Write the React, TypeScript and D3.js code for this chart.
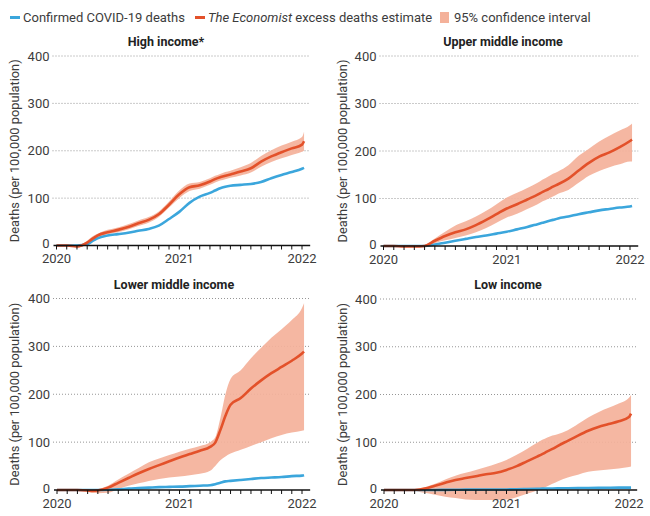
import React from "react";
import * as d3 from "d3";

// ---- data (months since Jan 2020) ----
const months = [0, 1, 2, 3, 3.5, 4, 5, 6, 7, 8, 9, 10, 11, 12, 13, 14, 15, 15.5, 16, 16.5, 17, 18, 19, 20, 21, 22, 23, 24, 24.2];
const yearLabels = ["2020", "2021", "2022"];
const yTicks = [0, 100, 200, 300, 400];
const panelTitles = ["High income*", "Upper middle income", "Lower middle income", "Low income"];

const highEstimate = [0, 0, -2, 6, 14, 21, 28, 33, 39, 47, 54, 66, 86, 108, 123, 127, 135, 140, 144, 147, 150, 156, 163, 177, 188, 197, 205, 213, 220];
const highUpper = [0, 1, 0, 10, 19, 25, 33, 38, 45, 53, 60, 72, 93, 116, 131, 134, 142, 147, 151, 155, 158, 165, 174, 189, 201, 211, 219, 229, 240];
const highLower = [0, -1, -4, 2, 9, 17, 24, 28, 34, 41, 48, 60, 80, 100, 115, 120, 128, 133, 137, 140, 143, 148, 154, 166, 176, 184, 191, 198, 200];
const highConfirmed = [0, 0, 0, 3, 9, 15, 21, 24, 27, 31, 35, 42, 56, 71, 90, 103, 111, 116, 121, 124, 126, 128, 130, 134, 142, 149, 155, 162, 164];

const upperMidEstimate = [0, 0, -1, -1, -1, 0, 11, 21, 29, 35, 44, 55, 67, 79, 88, 98, 108, 114, 119, 125, 130, 142, 159, 175, 188, 197, 208, 221, 224];
const upperMidUpper = [0, 0, 0, 0, 0, 2, 16, 30, 43, 52, 62, 74, 88, 102, 112, 122, 133, 140, 146, 152, 157, 170, 190, 205, 220, 232, 243, 254, 258];
const upperMidLower = [0, -1, -2, -2, -2, -2, 6, 12, 17, 22, 29, 38, 49, 60, 68, 78, 88, 94, 99, 104, 110, 118, 133, 148, 158, 166, 172, 178, 178];
const upperMidConfirmed = [0, 0, 0, 0, 0, 0, 3, 7, 11, 15, 19, 22, 26, 30, 35, 40, 46, 49, 52, 55, 58, 62, 67, 71, 75, 78, 81, 83, 84];

const lowerMidEstimate = [0, 0, 0, -1, -2, -1, 5, 15, 25, 35, 44, 52, 60, 68, 75, 82, 90, 99, 125, 155, 178, 192, 212, 229, 244, 257, 270, 285, 289];
const lowerMidUpper = [0, 1, 1, 0, 0, 2, 9, 22, 34, 46, 58, 66, 73, 80, 86, 92, 100, 110, 150, 200, 232, 250, 275, 297, 318, 336, 355, 380, 390];
const lowerMidLower = [0, -1, -2, -4, -6, -7, -6, 2, 9, 14, 19, 23, 26, 28, 31, 34, 40, 50, 62, 70, 76, 84, 92, 100, 108, 115, 120, 124, 125];
const lowerMidConfirmed = [0, 0, 0, 0, 0, 0, 0.5, 1.5, 3, 4, 5, 6, 6.5, 7, 8, 9, 10, 12, 15, 18, 19, 21, 23, 25, 26, 27, 29, 30, 31];

const lowEstimate = [0, 0, 0, 0, 1, 3, 9, 15, 21, 25, 29, 33, 36, 42, 50, 60, 70, 75, 81, 86, 92, 103, 114, 124, 132, 138, 144, 153, 160];
const lowUpper = [0, 0, 0, 1, 3, 6, 13, 22, 30, 36, 42, 48, 55, 63, 74, 86, 99, 105, 110, 114, 117, 125, 138, 152, 163, 172, 181, 193, 199];
const lowLower = [0, 0, 0, -2, -4, -6, -10, -14, -17, -20, -21, -21, -21, -20, -15, -8, -1, 3, 8, 13, 18, 26, 32, 38, 41, 43, 45, 48, 49];
const lowConfirmed = [0, 0, 0, 0, 0, 0, 0, 0.3, 0.5, 0.7, 0.8, 1, 1, 1.2, 1.5, 2, 2.5, 2.8, 3, 3.2, 3.4, 3.7, 4, 4.3, 4.5, 4.7, 4.9, 5, 5];

const series = [
  { est: highEstimate, up: highUpper, lo: highLower, conf: highConfirmed },
  { est: upperMidEstimate, up: upperMidUpper, lo: upperMidLower, conf: upperMidConfirmed },
  { est: lowerMidEstimate, up: lowerMidUpper, lo: lowerMidLower, conf: lowerMidConfirmed },
  { est: lowEstimate, up: lowUpper, lo: lowLower, conf: lowConfirmed },
];

// ---- layout ----
const layout = [
  { x0: 56.5, x1: 302, y0: 245.5, y1: 56, titleX: 166, titleY: 45.5, axisTitleX: 15 },
  { x0: 383.5, x1: 630, y0: 246, y1: 56, titleX: 503, titleY: 45.5, axisTitleX: 343 },
  { x0: 57, x1: 302, y0: 490, y1: 298.5, titleX: 174, titleY: 288.5, axisTitleX: 15 },
  { x0: 384, x1: 629, y0: 490, y1: 299, titleX: 508, titleY: 288.5, axisTitleX: 343 },
];

const BLUE = "#3ba6dc";
const RED = "#e3512a";
const BAND = "#f4b19a";
const TEXT = "#3c3c3c";
const FONT = "Roboto, 'Noto Sans', sans-serif";

function Panel({ idx }: { idx: number }) {
  const L = layout[idx];
  const S = series[idx];
  const x = d3.scaleLinear().domain([0, 24]).range([L.x0, L.x1]);
  const y = d3.scaleLinear().domain([0, 400]).range([L.y0, L.y1]);
  const pts = months.map((m, i) => i);
  const line = (vals: number[]) =>
    d3.line<number>().x((i) => x(months[i])).y((i) => y(vals[i])).curve(d3.curveMonotoneX)(pts) || "";
  const area =
    d3
      .area<number>()
      .x((i) => x(months[i]))
      .y0((i) => y(S.lo[i]))
      .y1((i) => y(S.up[i]))
      .curve(d3.curveMonotoneX)(pts) || "";
  const monthTicks = d3.range(0, 25);
  const gridStart = L.x0 - 4;
  const gridEnd = x(24.8);
  return (
    <g>
      <text x={L.titleX} y={L.titleY} textAnchor="middle" fontWeight="bold" fontSize={12.5} fill="#222">
        {panelTitles[idx]}
      </text>
      <text
        transform={`translate(${L.axisTitleX},${(L.y0 + L.y1) / 2}) rotate(-90)`}
        textAnchor="middle"
        dy="0.35em"
        fontSize={12.8}
        fill={TEXT}
      >
        Deaths (per 100,000 population)
      </text>
      {yTicks.map((t) => (
        <g key={t}>
          {t > 0 && (
            <line
              x1={gridStart}
              x2={gridEnd}
              y1={y(t)}
              y2={y(t)}
              stroke="#8a8a8a"
              strokeWidth={0.9}
              strokeDasharray="1 2"
            />
          )}
          <text
            x={L.x0 - 7}
            y={t === 0 ? y(t) - 2 : y(t)}
            dy="0.36em"
            textAnchor="end"
            fontSize={13}
            fill={TEXT}
          >
            {t}
          </text>
        </g>
      ))}
      <path d={area} fill={BAND} opacity={0.92} />
      <path d={line(S.conf)} fill="none" stroke={BLUE} strokeWidth={2.6} strokeLinejoin="round" />
      <path d={line(S.est)} fill="none" stroke={RED} strokeWidth={2.6} strokeLinejoin="round" />
      <line x1={L.x0 - 3} x2={gridEnd} y1={L.y0} y2={L.y0} stroke="#111" strokeWidth={1.4} />
      {monthTicks.map((m) => (
        <line key={m} x1={x(m)} x2={x(m)} y1={L.y0} y2={L.y0 + 4} stroke="#111" strokeWidth={1} />
      ))}
      {yearLabels.map((lab, i) => (
        <text key={lab} x={x(i * 12)} y={L.y0 + 17.5} textAnchor="middle" fontSize={13} fill={TEXT}>
          {lab}
        </text>
      ))}
    </g>
  );
}

export default function App() {
  return (
    <svg
      width={650}
      height={516}
      style={{ position: "absolute", left: 0, top: 0, background: "#fff" }}
      fontFamily={FONT}
    >
      <rect width={650} height={516} fill="#fff" />
      {/* legend */}
      <g fontSize={13} fill={TEXT}>
        <line x1={10} x2={20} y1={17.5} y2={17.5} stroke={BLUE} strokeWidth={3} />
        <text x={23} y={22}>Confirmed COVID-19 deaths</text>
        <line x1={195} x2={205} y1={17.5} y2={17.5} stroke={RED} strokeWidth={3} />
        <text x={208} y={22}>
          <tspan fontStyle="italic">The Economist</tspan> excess deaths estimate
        </text>
        <rect x={440} y={12} width={9} height={11} fill={BAND} />
        <text x={454} y={22}>95% confidence interval</text>
      </g>
      {[0, 1, 2, 3].map((i) => (
        <Panel key={i} idx={i} />
      ))}
    </svg>
  );
}
